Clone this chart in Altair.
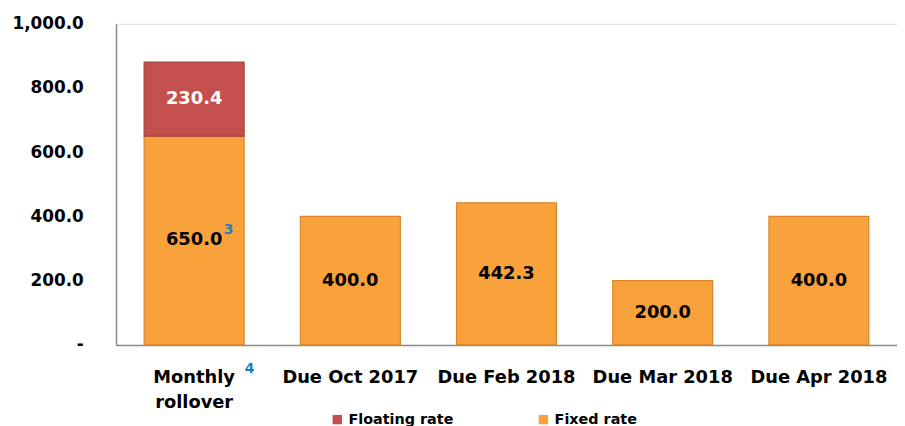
import altair as alt
import pandas as pd

categories = ["Monthly|rollover", "Due Oct 2017", "Due Feb 2018", "Due Mar 2018", "Due Apr 2018"]
fixed_rate = [650.0, 400.0, 442.3, 200.0, 400.0]
floating_rate = [230.4, 0.0, 0.0, 0.0, 0.0]
series = ["Floating rate", "Fixed rate"]
colors = ["#C4504D", "#F9A13A"]
y_ticks = [0, 200, 400, 600, 800, 1000]

rows = []
for c, fx, fl in zip(categories, fixed_rate, floating_rate):
    rows.append({"cat": c, "series": "Fixed rate", "value": fx, "ord": 0,
                 "mid": fx / 2, "label": f"{fx:,.1f}"})
    if fl > 0:
        rows.append({"cat": c, "series": "Floating rate", "value": fl, "ord": 1,
                     "mid": fx + fl / 2, "label": f"{fl:,.1f}"})
df = pd.DataFrame(rows)

FONT = "DejaVu Sans"
W, H = 788, 324

x_enc = alt.X("cat:N", sort=categories,
              scale=alt.Scale(paddingInner=0.36, paddingOuter=0.18),
              axis=alt.Axis(title=None, labelAngle=0, ticks=False, labelPadding=24,
                            labelFont=FONT, labelFontSize=18, labelFontWeight="bold",
                            labelColor="black", domainColor="#8a8a8a", domainWidth=1.5,
                            labelLimit=300, grid=False,
                            labelExpr="split(datum.label, '|')", labelLineHeight=25))
x_plain = alt.X("cat:N", sort=categories)

bars = alt.Chart(df).mark_bar(strokeWidth=1.2).encode(
    x=x_enc,
    y=alt.Y("value:Q", stack="zero",
            scale=alt.Scale(domain=[0, 1000], nice=False),
            axis=alt.Axis(title=None, values=y_ticks, ticks=False, grid=False,
                          labelPadding=33, labelFont=FONT, labelFontSize=17,
                          labelFontWeight="bold", labelColor="black",
                          domainColor="#8a8a8a", domainWidth=1.5,
                          labelExpr="datum.value == 0 ? '-' : format(datum.value, ',.1f')")),
    color=alt.Color("series:N", scale=alt.Scale(domain=series, range=colors),
                    legend=alt.Legend(title=None, orient="none", legendX=216, legendY=392,
                                      direction="horizontal", columns=2, columnPadding=83,
                                      symbolType="square", symbolSize=90,
                                      symbolStrokeWidth=0, labelFont=FONT,
                                      labelFontSize=14.5, labelFontWeight="bold",
                                      labelColor="black", padding=0)),
    stroke=alt.Color("series:N", scale=alt.Scale(domain=series, range=["#A63F3C", "#D8862B"]),
                     legend=None),
    order=alt.Order("ord:Q"),
)

labels = alt.Chart(df).mark_text(font=FONT, fontSize=18, fontWeight="bold").encode(
    x=x_plain,
    y=alt.Y("mid:Q"),
    text="label:N",
    color=alt.Color("series:N", scale=alt.Scale(domain=series, range=["white", "black"]),
                    legend=None),
)

first = df[(df["cat"] == categories[0]) & (df["series"] == "Fixed rate")]

note3 = alt.Chart(first).mark_text(
    font=FONT, fontSize=14, fontWeight="bold", color="#1F7CC7", align="left", dx=30, dy=-11
).encode(x=x_plain, y=alt.Y("mid:Q"), text=alt.value("3"))

note4 = alt.Chart(first).mark_text(
    font=FONT, fontSize=14, fontWeight="bold", color="#1F7CC7", align="left", dx=51
).encode(x=x_plain, y=alt.value(H + 24), text=alt.value("4"))

chart = alt.layer(bars, labels, note3, note4).resolve_scale(
    color="independent", stroke="independent"
).properties(
    width=W, height=H,
    autosize=alt.AutoSizeParams(type="none"),
    padding={"left": 109, "top": 14, "right": 0, "bottom": 90},
).configure_view(strokeWidth=0).configure(background="white")

chart.save("out.html", embed_options={"renderer": "svg", "actions": False})
